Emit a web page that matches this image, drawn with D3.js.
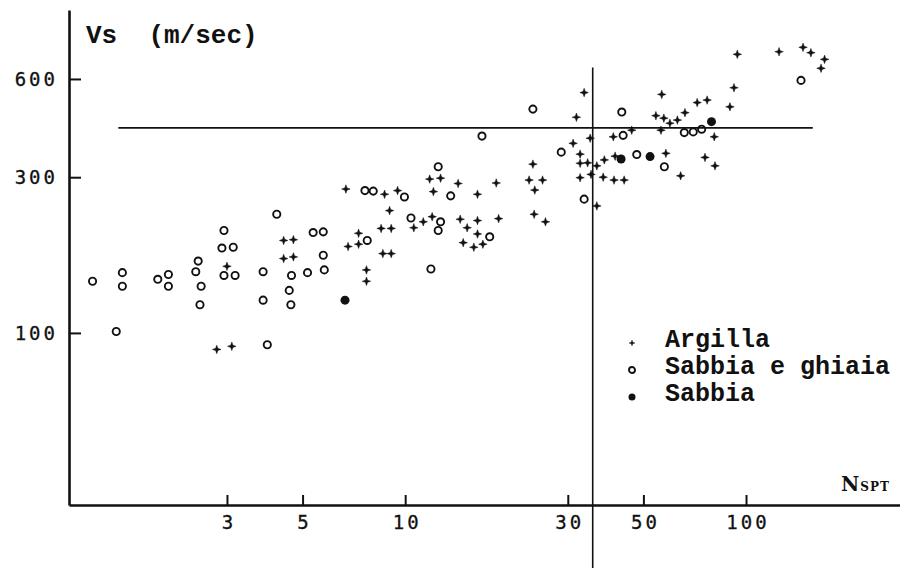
<!DOCTYPE html>
<html>
<head>
<meta charset="utf-8">
<script src="https://cdn.jsdelivr.net/npm/d3@7"></script>
<style>
    body { margin: 0; background: #fff; }
    .tick text { font-family: "DejaVu Sans Mono", monospace; font-size: 19px; letter-spacing: 3px; fill: #111; stroke: #111; stroke-width: 0.3px; }
</style>
</head>
<body>
<div id="chart"></div>
<script>
// values (N SPT, Vs m/sec)
var argillaN = [3.0, 2.8, 3.1, 4.4, 4.7, 4.4, 4.7, 6.7, 7.3, 6.8, 7.3, 7.7, 7.7, 8.7, 9.5, 9.0, 8.5, 9.1, 8.6, 9.1,
    10.6, 11.8, 12.7, 14.3, 12.1, 16.3, 18.5, 11.3, 12.0, 14.5, 15.2, 16.3, 16.3, 18.8, 14.8, 15.9, 16.9,
    23.7, 23.1, 25.3, 24.0, 23.9, 25.8, 31.8, 33.5, 34.9, 31.1, 32.6, 32.6, 34.3, 36.5, 32.6, 35.1, 36.5,
    38.4, 41.3, 40.8, 46.2, 38.1, 41.0, 43.9, 56.6, 54.4, 57.4, 59.8, 62.9, 66.2, 71.9, 76.9, 56.3, 58.2,
    75.8, 64.3, 80.7, 81.1, 94.3, 92.2, 89.7, 125, 147, 155, 170, 166];
var argillaVs = [160, 89, 91, 192, 193, 169, 171, 276, 202, 184, 187, 156, 144, 266, 273, 237, 209, 209, 175, 175,
    210, 296, 298, 287, 271, 266, 288, 219, 227, 223, 210, 221, 201, 224, 189, 183, 187,
    329, 294, 294, 274, 231, 219, 458, 545, 395, 381, 353, 331, 332, 325, 299, 306, 245,
    339, 348, 399, 418, 300, 294, 294, 538, 463, 455, 439, 449, 473, 508, 517, 418, 355,
    345, 303, 399, 325, 714, 564, 493, 727, 750, 722, 689, 647];

var ghiaiaN = [1.21, 1.48, 1.48, 1.42, 1.88, 2.02, 2.02, 2.47, 2.43, 2.52, 2.50, 2.94, 2.90, 3.13, 2.94, 3.17,
    4.20, 3.83, 3.83, 4.64, 4.57, 4.62, 5.17, 5.79, 5.75, 5.37, 5.75, 3.94, 7.62, 8.06, 9.95, 10.4, 7.74,
    23.7, 16.8, 12.5, 13.6, 12.7, 12.5, 17.7, 11.9, 28.7, 33.5, 43.2, 43.6, 47.8, 57.6, 65.9, 70.0, 74.1, 145];
var ghiaiaVs = [144, 153, 139, 101, 146, 151, 139, 166, 154, 139, 122, 206, 182, 183, 150, 150,
    231, 154, 126, 150, 135, 122, 153, 156, 173, 203, 204, 92, 273, 272, 261, 225, 192,
    485, 401, 323, 263, 219, 206, 197, 157, 358, 257, 475, 403, 352, 323, 411, 413, 421, 594];

var sabbiaN = [6.66, 43.0, 52.3, 79.2];
var sabbiaVs = [126, 341, 347, 444];

var xTicks = [3, 5, 10, 30, 50, 100];
var yTicks = [100, 300, 600];
var legendLabels = ["Argilla", "Sabbia e ghiaia", "Sabbia"];

// reference lines
var nLimit = 35.5;
var vsLimit = 425;

//define svg
var svgWidth = 900;
var svgHeight = 568;

var svg = d3.select("#chart")
    .append("svg")
    .attr("width", svgWidth)
    .attr("height", svgHeight);

svg.append("rect")
    .attr("width", svgWidth)
    .attr("height", svgHeight)
    .attr("fill", "#fff");

//scales (log-log)
var xScale = d3.scaleLog()
    .domain([1.032, 283])
    .range([69, 900]);
var yScale = d3.scaleLog()
    .domain([29.7, 976])
    .range([505, 10]);

//axes, ticks pointing inside
var xAxis = svg.append("g")
    .attr("transform", "translate(0,505)")
    .call(d3.axisBottom(xScale)
        .tickValues(xTicks)
        .tickFormat(d3.format("d"))
        .tickSize(-10)
        .tickSizeOuter(0)
        .tickPadding(11));

var yAxis = svg.append("g")
    .attr("transform", "translate(69,0)")
    .call(d3.axisLeft(yScale)
        .tickValues(yTicks)
        .tickFormat(d3.format("d"))
        .tickSize(-12)
        .tickSizeOuter(0)
        .tickPadding(11));

svg.selectAll(".domain").attr("stroke", "#111").attr("stroke-width", 2.6);
svg.selectAll(".tick line").attr("stroke", "#111").attr("stroke-width", 2);
xAxis.selectAll(".tick text").attr("dx", "1.5px");

//reference lines
svg.append("line")
    .attr("x1", xScale(1.44))
    .attr("x2", xScale(157))
    .attr("y1", yScale(vsLimit))
    .attr("y2", yScale(vsLimit))
    .attr("stroke", "#111")
    .attr("stroke-width", 1.8);

svg.append("line")
    .attr("x1", xScale(nLimit))
    .attr("x2", xScale(nLimit))
    .attr("y1", yScale(650))
    .attr("y2", svgHeight)
    .attr("stroke", "#111")
    .attr("stroke-width", 1.6);

//axis titles
svg.append("text")
    .attr("x", 86)
    .attr("y", 43)
    .attr("xml:space", "preserve")
    .style("white-space", "pre")
    .style("font-family", "'Liberation Mono', monospace")
    .style("font-weight", "bold")
    .style("font-size", "26px")
    .attr("fill", "#111")
    .text("Vs  (m/sec)");

var nLabel = svg.append("text")
    .attr("x", 841)
    .attr("y", 491)
    .style("font-family", "'DejaVu Serif', serif")
    .style("font-weight", "bold")
    .attr("fill", "#111");
nLabel.append("tspan").style("font-size", "20px").text("N");
nLabel.append("tspan").style("font-size", "12px").style("letter-spacing", "1px").attr("dx", "1").text("SPT");

//markers
var starPath = "M0,-5L1.3,-1.3L5,0L1.3,1.3L0,5L-1.3,1.3L-5,0L-1.3,-1.3Z";

function drawCross(g, x, y, k) {
    g.append("path")
        .attr("d", starPath)
        .attr("transform", `translate(${x},${y}) scale(${k})`)
        .attr("fill", "#111")
        .attr("stroke", "#111")
        .attr("stroke-width", 0.6);
}
function drawRing(g, x, y, r) {
    g.append("circle")
        .attr("cx", x)
        .attr("cy", y)
        .attr("r", r)
        .attr("fill", "none")
        .attr("stroke", "#111")
        .attr("stroke-width", 1.9);
}
function drawDot(g, x, y, r) {
    g.append("circle")
        .attr("cx", x)
        .attr("cy", y)
        .attr("r", r)
        .attr("fill", "#111");
}

var pointsGroup = svg.append("g");

argillaN.forEach(function (n, i) {
    drawCross(pointsGroup, xScale(n), yScale(argillaVs[i]), 0.85);
});
ghiaiaN.forEach(function (n, i) {
    drawRing(pointsGroup, xScale(n), yScale(ghiaiaVs[i]), 3.6);
});
sabbiaN.forEach(function (n, i) {
    drawDot(pointsGroup, xScale(n), yScale(sabbiaVs[i]), 4.5);
});

//legend
var legend = svg.append("g")
    .attr("transform", "translate(632,343)");

legendLabels.forEach(function (label, i) {
    var yy = i * 27;
    if (i === 0) drawCross(legend, 0, yy, 0.6);
    if (i === 1) drawRing(legend, 0, yy, 3);
    if (i === 2) drawDot(legend, 0, yy, 3.5);
    legend.append("text")
        .attr("x", 33)
        .attr("y", yy + 4)
        .attr("xml:space", "preserve")
        .style("white-space", "pre")
        .style("font-family", "'Liberation Mono', monospace")
        .style("font-weight", "bold")
        .style("font-size", "25px")
        .attr("fill", "#111")
        .text(label);
});
</script>
</body>
</html>
